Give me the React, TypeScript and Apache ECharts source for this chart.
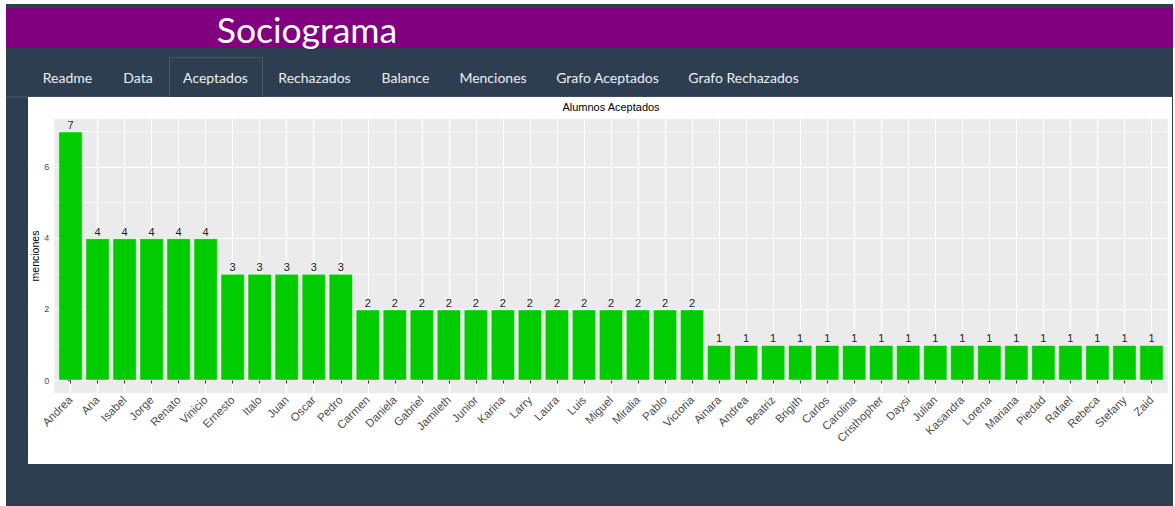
import React, { useEffect, useRef } from "react";
import * as echarts from "echarts";

const names = [
  "Andrea", "Ana", "Isabel", "Jorge", "Renato", "Vinicio", "Ernesto", "Italo", "Juan", "Oscar", "Pedro",
  "Carmen", "Daniela", "Gabriel", "Jamileth", "Junior", "Karina", "Larry", "Laura", "Luis", "Miguel",
  "Miralia", "Pablo", "Victoria", "Ainara", "Andrea", "Beatriz", "Brigith", "Carlos", "Carolina",
  "Cristhopher", "Daysi", "Julian", "Kasandra", "Lorena", "Mariana", "Piedad", "Rafael", "Rebeca",
  "Stefany", "Zaid",
];
const menciones = [
  7, 4, 4, 4, 4, 4, 3, 3, 3, 3, 3,
  2, 2, 2, 2, 2, 2, 2, 2, 2, 2, 2, 2, 2,
  1, 1, 1, 1, 1, 1, 1, 1, 1, 1, 1, 1, 1, 1, 1, 1, 1,
];
const yMajor = [0, 2, 4, 6];
const yMinor = [1, 3, 5, 7];
const tabs = ["Readme", "Data", "Aceptados", "Rechazados", "Balance", "Menciones", "Grafo Aceptados", "Grafo Rechazados"];
const tabCenters = [67.5, 138, 215.5, 314.5, 405.5, 493, 607.5, 743.5];

export default function App() {
  const ref = useRef<HTMLDivElement>(null);
  useEffect(() => {
    if (!ref.current) return;
    const chart = echarts.init(ref.current, undefined, { renderer: "svg" });
    const idx = names.map((_, i) => i);
    const font = "'Liberation Sans', Arial, sans-serif";
    const graphics: any[] = [
      { type: "rect", z: -10, shape: { x: 6, y: 4, width: 1167, height: 502 }, style: { fill: "#2c3e50" } },
      { type: "rect", z: -9, shape: { x: 6, y: 8, width: 1167, height: 40 }, style: { fill: "#800080" } },
      {
        type: "text", z: -8, x: 307, y: 29,
        style: { text: "Sociograma", fill: "#ffffff", font: "35.5px Lato, sans-serif", align: "center", verticalAlign: "middle" },
      },
      { type: "rect", z: -9, shape: { x: 6, y: 96.5, width: 1167, height: 1 }, style: { fill: "#46596b" } },
      { type: "rect", z: -9, shape: { x: 169.5, y: 57.5, width: 93, height: 42 }, style: { fill: "#2c3e50", stroke: "#46596b", lineWidth: 1 } },
      { type: "rect", z: -8, shape: { x: 28, y: 97, width: 1144, height: 367 }, style: { fill: "#ffffff" } },
      ...tabs.map((t, i) => ({
        type: "text", z: -7, x: tabCenters[i], y: 77,
        style: { text: t, fill: "#ecf0f1", font: "14px Lato, sans-serif", align: "center", verticalAlign: "middle" },
      })),
      {
        type: "text", z: 5, x: 611, y: 107,
        style: { text: "Alumnos Aceptados", fill: "#000000", font: "11px " + font, align: "center", verticalAlign: "middle" },
      },
    ];
    chart.setOption({
      animation: false,
      backgroundColor: "#ffffff",
      graphic: graphics,
      grid: {
        left: 54.3, right: 1175 - 1167.7, top: 119, bottom: 506 - 393,
        show: true, backgroundColor: "#EBEBEB", borderWidth: 0, containLabel: false,
      },
      xAxis: {
        type: "value", min: -0.6, max: 40.6,
        axisLine: { show: false },
        axisTick: { show: true, length: 3, lineStyle: { color: "#333333", width: 1 }, customValues: idx },
        axisLabel: {
          customValues: idx, rotate: 45, margin: 5, fontSize: 11.5, color: "#4D4D4D", fontFamily: font,
          formatter: (v: number) => names[Math.round(v)] ?? "",
        },
        splitLine: { show: true, lineStyle: { color: "#ffffff", width: 1.2 } },
      },
      yAxis: [
        {
          type: "value", min: -0.35, max: 7.35,
          name: "menciones", nameLocation: "middle", nameRotate: 90, nameGap: 14,
          nameMoveOverlap: false,
          nameTextStyle: { fontSize: 10.5, color: "#000000", fontFamily: font },
          axisLine: { show: false },
          axisTick: { show: true, length: 3, lineStyle: { color: "#333333" }, customValues: yMajor },
          axisLabel: { customValues: yMajor, fontSize: 9, color: "#4D4D4D", margin: 5, fontFamily: font },
          splitLine: { show: true, lineStyle: { color: "#ffffff", width: 1.2 } },
        },
        {
          type: "value", min: -0.35, max: 7.35, position: "left",
          axisLine: { show: false },
          axisTick: { show: false, customValues: yMinor },
          axisLabel: { show: false, customValues: yMinor },
          splitLine: { show: true, lineStyle: { color: "#ffffff", width: 0.6 } },
        },
      ],
      series: [
        {
          type: "bar",
          data: menciones.map((v, i) => [i, v]),
          barWidth: 24.3,
          clip: false,
          itemStyle: { color: "#00CC00", borderColor: "rgba(255,255,255,0.45)", borderWidth: 1 },
          label: { show: true, position: "top", distance: 1, fontSize: 11, color: "#1a1a1a", fontFamily: font },
        },
      ],
    });
    return () => chart.dispose();
  }, []);
  return <div ref={ref} style={{ position: "fixed", left: 0, top: 0, width: 1175, height: 506 }} />;
}
